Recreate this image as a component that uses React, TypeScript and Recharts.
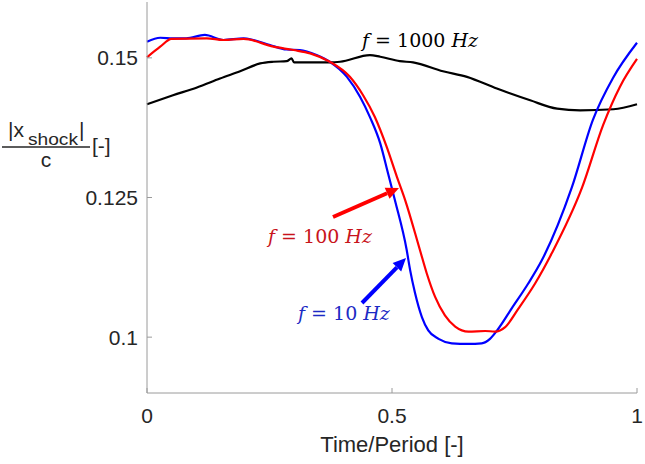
import { LineChart, Line, XAxis, YAxis } from "recharts";

// time / period
const tBlue = [0, 0.027, 0.053, 0.08, 0.118, 0.156, 0.197, 0.217, 0.251, 0.285, 0.312, 0.346, 0.373, 0.408, 0.435, 0.455, 0.476, 0.492, 0.506, 0.53, 0.537, 0.547, 0.561, 0.574, 0.595, 0.622, 0.656, 0.683, 0.7, 0.717, 0.744, 0.778, 0.806, 0.867, 0.91, 0.951, 1];
const vBlue = [0.1529, 0.1536, 0.1535, 0.1535, 0.1541, 0.1532, 0.1535, 0.1532, 0.1523, 0.1515, 0.1514, 0.1505, 0.1493, 0.1466, 0.143, 0.1394, 0.1347, 0.1293, 0.1245, 0.1156, 0.112, 0.1079, 0.1036, 0.1012, 0.0997, 0.0989, 0.0988, 0.0989, 0.0997, 0.1015, 0.1051, 0.1096, 0.1138, 0.1268, 0.1389, 0.1464, 0.1527];

const tRed = [0, 0.027, 0.05, 0.122, 0.156, 0.197, 0.258, 0.299, 0.333, 0.373, 0.414, 0.441, 0.465, 0.489, 0.51, 0.527, 0.557, 0.571, 0.588, 0.608, 0.629, 0.656, 0.69, 0.71, 0.731, 0.758, 0.792, 0.826, 0.888, 0.931, 0.965, 1];
const vRed = [0.1501, 0.152, 0.1534, 0.1535, 0.1532, 0.1534, 0.152, 0.1514, 0.1508, 0.1493, 0.1466, 0.1433, 0.1394, 0.1341, 0.1287, 0.1245, 0.1156, 0.1114, 0.1072, 0.1039, 0.1019, 0.101, 0.1011, 0.101, 0.1018, 0.1051, 0.1096, 0.115, 0.1268, 0.138, 0.1448, 0.1498];

const tBlack = [0, 0.053, 0.102, 0.149, 0.19, 0.231, 0.258, 0.285, 0.295, 0.3, 0.373, 0.394, 0.455, 0.476, 0.516, 0.543, 0.604, 0.653, 0.714, 0.782, 0.837, 0.884, 0.952, 1];
const vBlack = [0.1417, 0.1433, 0.1447, 0.1463, 0.1476, 0.149, 0.1493, 0.1494, 0.1499, 0.1492, 0.1492, 0.1493, 0.1505, 0.1502, 0.1494, 0.1492, 0.1476, 0.1466, 0.1445, 0.1424, 0.1409, 0.1406, 0.1408, 0.1417];

const xTicks = [0, 0.5, 1];
const yTicks = [0.1, 0.125, 0.15];

const toRows = (ts: number[], vs: number[]) => ts.map((t, i) => ({ t, v: vs[i] }));

const W = 645;
const H = 464;
const AXIS = "#9a9a9a";
const TXT = "#262626";

function Arrow({ x1, y1, x2, y2, color }: { x1: number; y1: number; x2: number; y2: number; color: string }) {
  const len = Math.hypot(x2 - x1, y2 - y1);
  const ux = (x2 - x1) / len;
  const uy = (y2 - y1) / len;
  const hl = 13;
  const hw = 6;
  const bx = x2 - ux * hl;
  const by = y2 - uy * hl;
  const pts = `${x2},${y2} ${bx - uy * hw},${by + ux * hw} ${bx + uy * hw},${by - ux * hw}`;
  return (
    <g>
      <line x1={x1} y1={y1} x2={bx} y2={by} stroke={color} strokeWidth={4} />
      <polygon points={pts} fill={color} />
    </g>
  );
}

function FreqLabel({ x, y, num, color }: { x: number; y: number; num: string; color: string }) {
  return (
    <text x={x} y={y} fill={color} fontFamily="'DejaVu Serif', serif" fontSize={19}>
      <tspan fontStyle="italic">f</tspan>
      <tspan>{` = ${num} `}</tspan>
      <tspan fontStyle="italic">Hz</tspan>
    </text>
  );
}

export default function App() {
  return (
    <div style={{ position: "absolute", left: 0, top: 0, width: W, height: H, background: "#fff" }}>
      <LineChart width={W} height={H} margin={{ top: 2, right: 8, left: 0, bottom: 0 }}>
        <XAxis
          type="number"
          dataKey="t"
          domain={[0, 1]}
          ticks={xTicks}
          height={71}
          stroke={AXIS}
          tickSize={-5}
          tickMargin={20}
          tick={{ fill: TXT, fontSize: 21, fontFamily: "'Liberation Sans', Arial, sans-serif" }}
          tickFormatter={(v: number) => String(v)}
        />
        <YAxis
          type="number"
          dataKey="v"
          domain={[0.09, 0.16]}
          ticks={yTicks}
          width={147}
          stroke={AXIS}
          tickSize={-5}
          tickMargin={14}
          allowDataOverflow
          tick={{ fill: TXT, fontSize: 21, fontFamily: "'Liberation Sans', Arial, sans-serif" }}
          tickFormatter={(v: number) => String(v)}
        />
        <Line data={toRows(tBlack, vBlack)} dataKey="v" type="monotone" stroke="#000" strokeWidth={2.2} dot={false} isAnimationActive={false} />
        <Line data={toRows(tBlue, vBlue)} dataKey="v" type="monotone" stroke="#0000ff" strokeWidth={2.2} dot={false} isAnimationActive={false} />
        <Line data={toRows(tRed, vRed)} dataKey="v" type="monotone" stroke="#ff0000" strokeWidth={2.2} dot={false} isAnimationActive={false} />
      </LineChart>
      <svg width={W} height={H} style={{ position: "absolute", left: 0, top: 0, pointerEvents: "none" }}>
        <FreqLabel x={362} y={47} num="1000" color="#000" />
        <FreqLabel x={268} y={243} num="100" color="#c8141c" />
        <FreqLabel x={298} y={320} num="10" color="#1c2ac4" />
        <Arrow x1={333} y1={217} x2={399} y2={188} color="#ff0000" />
        <Arrow x1={362} y1={303} x2={406} y2={258} color="#0000ff" />
        <g fill={TXT} fontFamily="'Liberation Sans', Arial, sans-serif">
          <text x={8} y={137} fontSize={21}>|x</text>
          <text x={28} y={145} fontSize={16} textLength={50} lengthAdjust="spacingAndGlyphs">shock</text>
          <text x={79} y={137} fontSize={21}>|</text>
          <line x1={2} y1={147} x2={90} y2={147} stroke={TXT} strokeWidth={1.5} />
          <text x={46} y={167} fontSize={21} textAnchor="middle">c</text>
          <text x={92} y={153} fontSize={21}>[-]</text>
          <text x={392} y={452} fontSize={22} textAnchor="middle">Time/Period [-]</text>
        </g>
      </svg>
    </div>
  );
}
